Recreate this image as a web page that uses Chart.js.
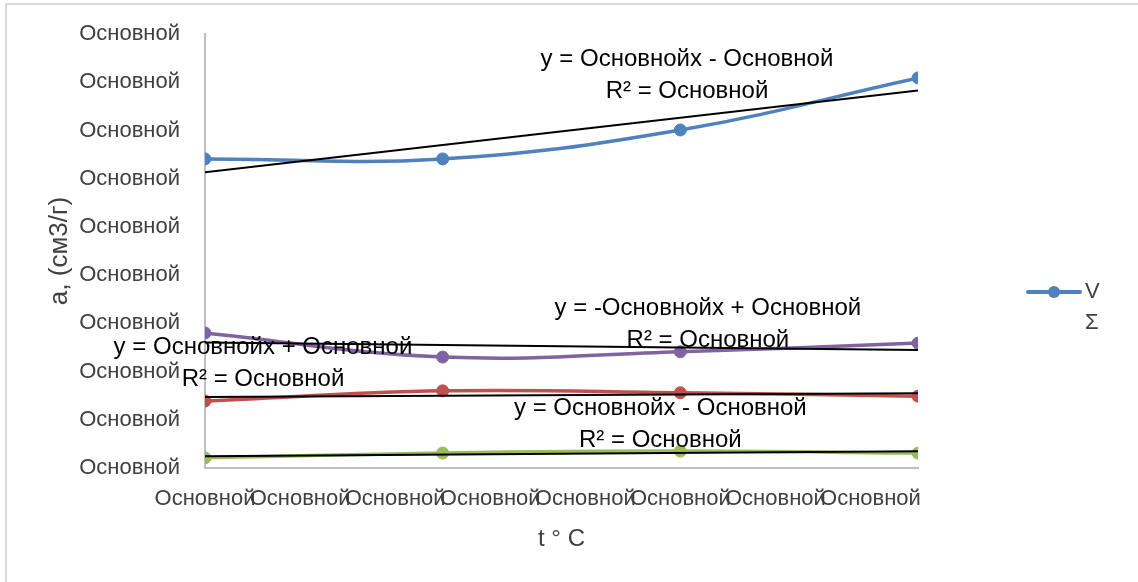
<!DOCTYPE html>
<html>
<head>
<meta charset="utf-8">
<script src="https://cdn.jsdelivr.net/npm/chart.js@4.4.0/dist/chart.umd.min.js"></script>
<style>
  html, body { margin: 0; padding: 0; background: #fff; }
  #wrap { position: relative; width: 1138px; height: 582px; }
  canvas { display: block; }
</style>
</head>
<body>
<div id="wrap"><canvas id="c" width="1138" height="582"></canvas></div>
<script>
// Treatment temperatures, °C
const temperatures = [500, 525, 550, 575];
// Adsorption values, cm3/g
const seriesV = [0.641, 0.641, 0.701, 0.809];
const seriesPurple = [0.280, 0.230, 0.241, 0.259];
const seriesRed = [0.139, 0.160, 0.156, 0.149];
const seriesGreen = [0.021, 0.031, 0.035, 0.031];
// Number format shown on axes and equations
const numberLabel = 'Основной';
const legendLabels = ['V', 'Σ'];

const FONT = "'Liberation Sans', Arial, sans-serif";
const TICK_SIZE = 22;
const EQ_SIZE = 24;
const GREY_TEXT = '#404040';

function pts(xs, ys) { return xs.map((x, i) => ({ x, y: ys[i] })); }

// least squares line through a series
function linearFit(xs, ys) {
  const n = xs.length;
  const mx = xs.reduce((a, b) => a + b, 0) / n;
  const my = ys.reduce((a, b) => a + b, 0) / n;
  let sxy = 0, sxx = 0;
  for (let i = 0; i < n; i++) { sxy += (xs[i] - mx) * (ys[i] - my); sxx += (xs[i] - mx) ** 2; }
  const slope = sxy / sxx;
  return { slope, intercept: my - slope * mx };
}

function equationText(fit) {
  return 'y = ' + (fit.slope < 0 ? '-' : '') + numberLabel + 'x ' +
         (fit.intercept < 0 ? '- ' : '+ ') + numberLabel;
}

const series = [
  { label: 'V', values: seriesV, color: '#4F81BD', legend: true, eqAt: { x: 550.7, y: 0.848 } },
  { label: 'a2', values: seriesPurple, color: '#8064A2', legend: false, eqAt: { x: 552.9, y: 0.332 } },
  { label: 'a1', values: seriesRed, color: '#C0504D', legend: false, eqAt: { x: 506.1, y: 0.251 } },
  { label: 'a0', values: seriesGreen, color: '#9BBB59', legend: false, eqAt: { x: 547.9, y: 0.124 } }
];

const xMin = temperatures[0], xMax = temperatures[temperatures.length - 1];
const datasets = [];
series.forEach(s => {
  const fit = linearFit(temperatures, s.values);
  s.fit = fit;
  datasets.push({
    label: s.label,
    data: pts(temperatures, s.values),
    borderColor: s.color,
    backgroundColor: s.color,
    borderWidth: 3.5,
    pointRadius: 6,
    pointBorderWidth: 1,
    pointBorderColor: s.color,
    pointBackgroundColor: s.color,
    tension: 0.4,
    order: 1,
    inLegend: s.legend
  });
  datasets.push({
    label: 'trend ' + s.label,
    data: [{ x: xMin, y: fit.intercept + fit.slope * xMin }, { x: xMax, y: fit.intercept + fit.slope * xMax }],
    borderColor: '#000',
    borderWidth: 2,
    pointRadius: 0,
    tension: 0,
    order: 0,
    inLegend: false
  });
});
// series present in the legend only
datasets.push({ label: 'Σ', data: [], borderColor: 'transparent', backgroundColor: 'transparent', pointRadius: 0, inLegend: true, noSwatch: true });

const frame = {
  id: 'frame',
  beforeDraw(chart) {
    const ctx = chart.ctx;
    ctx.save();
    ctx.strokeStyle = '#d9d9d9';
    ctx.lineWidth = 2;
    ctx.beginPath();
    ctx.moveTo(6, 582); ctx.lineTo(6, 4); ctx.lineTo(1138, 4);
    ctx.stroke();
    ctx.restore();
  }
};

const equations = {
  id: 'equations',
  afterDatasetsDraw(chart) {
    const ctx = chart.ctx, xs = chart.scales.x, ys = chart.scales.y;
    ctx.save();
    ctx.font = EQ_SIZE + 'px ' + FONT;
    ctx.fillStyle = '#000';
    ctx.textAlign = 'center';
    ctx.textBaseline = 'middle';
    series.forEach(s => {
      const px = xs.getPixelForValue(s.eqAt.x);
      const py = ys.getPixelForValue(s.eqAt.y);
      ctx.fillText(equationText(s.fit), px, py);
      ctx.fillText('R² = ' + numberLabel, px, py + 32);
    });
    ctx.restore();
  }
};

const sideLegend = {
  id: 'sideLegend',
  afterDraw(chart) {
    const ctx = chart.ctx;
    const items = chart.data.datasets.filter(d => d.inLegend && legendLabels.includes(d.label));
    ctx.save();
    ctx.font = TICK_SIZE + 'px ' + FONT;
    ctx.textBaseline = 'middle';
    ctx.textAlign = 'left';
    items.forEach((d, i) => {
      const y = 292 + i * 31;
      if (!d.noSwatch) {
        ctx.strokeStyle = d.borderColor;
        ctx.lineWidth = 4;
        ctx.lineCap = 'round';
        ctx.beginPath(); ctx.moveTo(1028, y); ctx.lineTo(1080, y); ctx.stroke();
        ctx.fillStyle = d.borderColor;
        ctx.beginPath(); ctx.arc(1054, y, 6, 0, Math.PI * 2); ctx.fill();
      }
      ctx.fillStyle = GREY_TEXT;
      ctx.fillText(d.label, 1085, y);
    });
    ctx.restore();
  }
};

new Chart(document.getElementById('c'), {
  type: 'line',
  data: { datasets },
  plugins: [frame, equations, sideLegend],
  options: {
    responsive: false,
    animation: false,
    devicePixelRatio: 1,
    layout: { padding: { left: 0, right: 220, top: 34, bottom: 0 } },
    plugins: { legend: { display: false }, tooltip: { enabled: false } },
    scales: {
      x: {
        type: 'linear',
        min: xMin,
        max: xMax,
        afterFit(s) { s.height = 114; },
        grid: { display: false },
        border: { display: true, color: '#bfbfbf', width: 2 },
        ticks: {
          stepSize: 10,
          includeBounds: false,
          autoSkip: false,
          maxRotation: 0,
          padding: 10,
          color: GREY_TEXT,
          font: { family: FONT, size: TICK_SIZE },
          callback: () => numberLabel
        },
        title: {
          display: true,
          text: 't ° C',
          color: GREY_TEXT,
          font: { family: FONT, size: EQ_SIZE },
          padding: { top: 0, bottom: 28 }
        }
      },
      y: {
        min: 0,
        max: 0.9,
        afterFit(s) { s.width = 205; },
        grid: { display: false },
        border: { display: true, color: '#bfbfbf', width: 2 },
        ticks: {
          stepSize: 0.1,
          padding: 17,
          color: GREY_TEXT,
          font: { family: FONT, size: TICK_SIZE },
          callback: () => numberLabel
        },
        title: {
          display: true,
          text: 'a, (см3/г)',
          color: GREY_TEXT,
          font: { family: FONT, size: 26 },
          padding: { top: 44, bottom: 0 }
        }
      }
    }
  }
});
</script>
</body>
</html>
